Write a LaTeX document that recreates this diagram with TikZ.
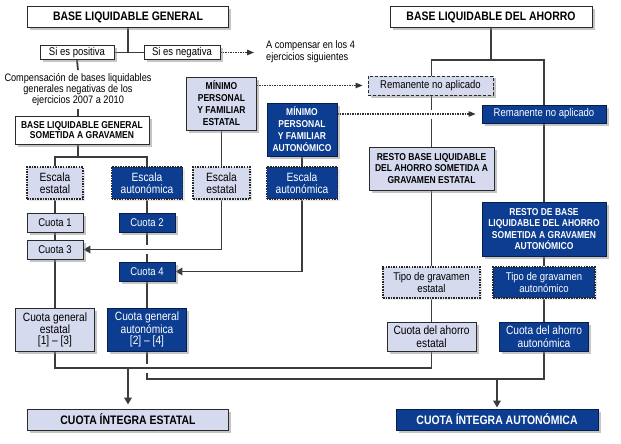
\documentclass[tikz,border=0pt]{standalone}
\usepackage{fontspec}
\setmainfont{Liberation Sans}[FakeStretch=0.85]
\usetikzlibrary{arrows.meta,shadows,backgrounds,calc}
\definecolor{lightc}{HTML}{D6DAEE}
\definecolor{darkc}{HTML}{0C3D91}
\definecolor{linec}{HTML}{3C3C3C}
\definecolor{bordc}{HTML}{2A2A2A}
\begin{document}
\begin{tikzpicture}[x=1pt,y=-1pt,
  box/.style={draw=bordc, line width=0.9pt, align=center, inner sep=0pt},
  sh/.style={drop shadow={shadow xshift=2.5pt,shadow yshift=-2.5pt,fill=black!45}},
  shl/.style={drop shadow={shadow xshift=2pt,shadow yshift=-2pt,fill=black!18}},
  wbox/.style={box, fill=white, sh},
  lbox/.style={box, fill=lightc, sh},
  dbox/.style={box, fill=darkc, text=white, draw=darkc!50!black, sh},
  ldot/.style={box, fill=lightc, shl, line width=1.6pt, dash pattern=on 1.5pt off 1.1pt, draw=black!85},
  ddot/.style={box, fill=darkc, text=white, shl, line width=1.6pt, dash pattern=on 1.5pt off 1.1pt, draw=black!85},
  dashb/.style={dash pattern=on 3pt off 1.8pt},
  tbold/.style={font=\fontsize{12.3}{13}\selectfont\bfseries},
  sbold/.style={font=\fontsize{10}{11.5}\selectfont\bfseries},
  mbold/.style={font=\fontsize{10}{12}\selectfont\bfseries},
  norm/.style={font=\fontsize{11.2}{12}\selectfont},
  small/.style={font=\fontsize{10.8}{10}\selectfont},
  big/.style={font=\fontsize{12}{12.5}\selectfont},
  gen/.style={font=\fontsize{12}{11}\selectfont},
  conn/.style={draw=linec, line width=1.8pt},
  arr/.style={conn, -{Triangle[length=7pt,width=7.5pt]}},
  darr/.style={draw=black!80, line width=1.2pt, dash pattern=on 1.2pt off 1.3pt, -{Triangle[length=7pt,width=5.5pt]}},
  halo/.style={preaction={draw=white, line width=9pt, solid, -}}
]
\useasboundingbox (0,0) rectangle (621,444);
% top
\node[wbox, tbold, minimum width=201pt, minimum height=21pt] (blg) at (128,17) {BASE LIQUIDABLE GENERAL};
\node[wbox, tbold, minimum width=202pt, minimum height=21pt] (bla) at (491,17) {BASE LIQUIDABLE DEL AHORRO};
\node[wbox, norm, minimum width=74pt, minimum height=14pt] (pos) at (77,52.5) {Si es positiva};
\node[wbox, norm, minimum width=76pt, minimum height=14pt] (neg) at (182,52.5) {Si es negativa};
\coordinate (negend) at (254,52.5);
\node[small, align=left, anchor=west, inner sep=0pt, font=\fontsize{10.8}{12}\selectfont] (acomp) at (266,52) {A compensar en los 4\\ejercicios siguientes};
\node[small, align=center, inner xsep=0pt, inner ysep=3pt] (comp) at (78,89.5) {Compensación de bases liquidables\\generales negativas de los\\ejercicios 2007 a 2010};
\node[wbox, sbold, font=\fontsize{10}{10.5}\selectfont\bfseries, minimum width=134pt, minimum height=28pt] (som) at (82,130) {BASE LIQUIDABLE GENERAL\\SOMETIDA A GRAVAMEN};
\coordinate (sp1) at (78,157);
\coordinate (sp2) at (491,60);
% minimo
\node[lbox, mbold, minimum width=70pt, minimum height=53pt] (mine) at (221.5,103.5) {MÍNIMO\\PERSONAL\\Y FAMILIAR\\ESTATAL};
\node[dbox, mbold, minimum width=70pt, minimum height=53pt] (mina) at (302,129.5) {MÍNIMO\\PERSONAL\\Y FAMILIAR\\AUTONÓMICO};
% remanente
\node[lbox, dashb, norm, minimum width=125pt, minimum height=19pt] (rem1) at (430.5,85.5) {Remanente no aplicado};
\node[dbox, norm, minimum width=124pt, minimum height=18pt] (rem2) at (544,114) {Remanente no aplicado};
% resto
\node[lbox, sbold, minimum width=125pt, minimum height=43pt] (resto1) at (431.5,168.5) {RESTO BASE LIQUIDABLE\\DEL AHORRO SOMETIDA A\\GRAVAMEN ESTATAL};
\node[dbox, sbold, minimum width=124pt, minimum height=54pt] (resto2) at (544,229) {RESTO DE BASE\\LIQUIDABLE DEL AHORRO\\SOMETIDA A GRAVAMEN\\AUTONÓMICO};
% escalas
\node[ldot, big, minimum width=56pt, minimum height=32pt] (escE1) at (55,183) {Escala\\estatal};
\node[ddot, big, minimum width=71pt, minimum height=32pt] (escA1) at (147,183) {Escala\\autonómica};
\node[ldot, big, minimum width=57pt, minimum height=32pt] (escE2) at (221.5,183) {Escala\\estatal};
\node[ddot, big, minimum width=71pt, minimum height=32pt] (escA2) at (302,183) {Escala\\autonómica};
% tipos
\node[ldot, norm, minimum width=97pt, minimum height=31pt] (tipoE) at (431.5,282.5) {Tipo de gravamen\\estatal};
\node[ddot, norm, minimum width=102pt, minimum height=31pt] (tipoA) at (544,282.5) {Tipo de gravamen\\autonómico};
% cuotas
\node[lbox, norm, minimum width=56pt, minimum height=19pt] (c1) at (55,222.5) {Cuota 1};
\node[dbox, norm, minimum width=56pt, minimum height=19pt] (c2) at (147,222.5) {Cuota 2};
\node[lbox, norm, minimum width=56pt, minimum height=19pt] (c3) at (55,249.5) {Cuota 3};
\node[dbox, norm, minimum width=56pt, minimum height=19pt] (c4) at (147,271.5) {Cuota 4};
\node[lbox, gen, minimum width=79pt, minimum height=43pt] (cge) at (55,329.5) {Cuota general\\estatal\\{[1] – [3]}};
\node[dbox, gen, minimum width=79pt, minimum height=43pt] (cga) at (147,329.5) {Cuota general\\autonómica\\{[2] – [4]}};
\node[lbox, big, minimum width=89pt, minimum height=29pt] (cae) at (431.5,336.5) {Cuota del ahorro\\estatal};
\node[dbox, big, minimum width=89pt, minimum height=29pt] (caa) at (544,336.5) {Cuota del ahorro\\autonómica};
\coordinate (jE) at (128,368);
\coordinate (jA) at (497,379);
\node[lbox, tbold, minimum width=201pt, minimum height=21pt] (cie) at (128,419.5) {CUOTA ÍNTEGRA ESTATAL};
\node[dbox, tbold, minimum width=202pt, minimum height=21pt] (cia) at (497,419.5) {CUOTA ÍNTEGRA AUTONÓMICA};
% connectors
\begin{scope}[on background layer]
\draw[conn] (blg.south) -- (blg.south |- pos.east);
\draw[conn] (pos.east) -- (neg.west);
\draw[conn] (pos.south) -- (comp.north);
\draw[conn] (comp.south) -- (comp.south |- som.north);
\draw[conn] (sp1 |- som.south) -- (sp1);
\draw[conn] (escE1.north) |- (sp1);
\draw[conn] (escA1.north) |- (sp1);
\draw[conn] (escE1) -- (c1) -- (c3) -- (cge);
\draw[conn] (escA1) -- (c2) -- (c4) -- (cga);
\draw[conn] (mine) -- (escE2);
\draw[conn] (mina) -- (escA2);
\draw[conn] (resto1) -- (tipoE) -- (cae);
\draw[conn] (resto2) -- (tipoA) -- (caa);
\draw[conn] (bla.south) -- (sp2);
\draw[conn] (resto1.north) |- (sp2);
\draw[conn] (resto2.north) |- (sp2);
\draw[conn] (cga.south) |- (jA);
\draw[conn] (caa.south) |- (jA);
\draw[conn] (cge.south) |- (jE);
\draw[arr, halo] (escE2.south) |- (c3.east);
\draw[arr] (escA2.south) |- (c4.east);
\draw[conn, halo] (cae.south) |- (jE);
\draw[darr] (neg.east) -- (negend);
\draw[darr, shorten >=5pt] (mine.east |- rem1.west) -- (rem1.west);
\draw[darr, halo, shorten >=6pt] (mina.east |- rem2.west) -- (rem2.west);
\draw[arr, shorten >=4pt] (jE) -- (cie.north);
\draw[arr, shorten >=1pt] (jA) -- (cia.north);
\end{scope}
\end{tikzpicture}
\end{document}
